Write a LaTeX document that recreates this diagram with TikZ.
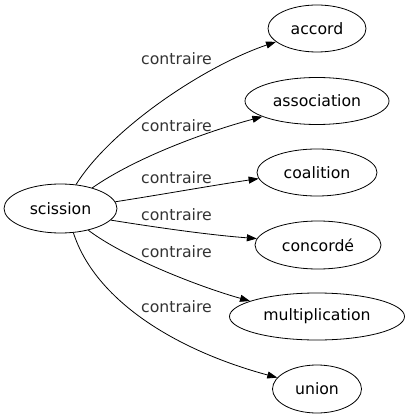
\documentclass[tikz,border=0pt]{standalone}
\usepackage{fontspec}
\setmainfont{DejaVu Sans}
\usetikzlibrary{shapes.geometric,arrows.meta}
\tikzset{
  word/.style={ellipse,draw,line width=0.8pt,inner sep=0pt,font=\fontsize{15.7}{18}\selectfont},
  edge/.style={draw,line width=0.8pt,-{Triangle[length=10pt,width=7pt]}},
  lbl/.style={anchor=base,inner sep=0pt,font=\fontsize{15.7}{18}\selectfont,text=black!80}
}
\begin{document}
\begin{tikzpicture}[x=1pt,y=-1pt]
\useasboundingbox (0,0) rectangle (410,419);
\node[word,minimum width=113pt,minimum height=49pt] (sc) at (60.5,208.5) {scission};
\node[word,minimum width=98pt,minimum height=47pt] (ac) at (317,28.5) {accord};
\node[word,minimum width=144pt,minimum height=47pt] (as) at (317,101) {association};
\node[word,minimum width=120pt,minimum height=47pt] (co) at (317,172.5) {coalition};
\node[word,minimum width=126pt,minimum height=48pt] (cd) at (318,245) {concordé};
\node[word,minimum width=175pt,minimum height=47pt] (mu) at (317,316.5) {multiplication};
\node[word,minimum width=89pt,minimum height=48pt] (un) at (317,389) {union};

\draw[edge] (sc.57) .. controls (110,130) and (202,67) .. (ac.198.6);
\draw[edge] (sc.33) .. controls (135,158) and (205,132) .. (as.196.8);
\draw[edge] (sc.7.8) .. controls (165,194) and (215,185) .. (co.186.5);
\draw[edge] (sc.-13.4) .. controls (160,228) and (210,235) .. (cd.174.6);
\draw[edge] (sc.-38) .. controls (125,258) and (200,287) .. (mu.167.8);
\draw[edge] (sc.-62) .. controls (95,300) and (175,350) .. (un.164.6);

\node[lbl] (l1) at (176.5,65) {contraire};
\node[lbl] (l2) at (176.5,131.7) {contraire};
\node[lbl] (l3) at (176.5,184) {contraire};
\node[lbl] (l4) at (176.5,220.7) {contraire};
\node[lbl] (l5) at (176.5,257.7) {contraire};
\node[lbl] (l6) at (176.5,312.3) {contraire};
\end{tikzpicture}
\end{document}
